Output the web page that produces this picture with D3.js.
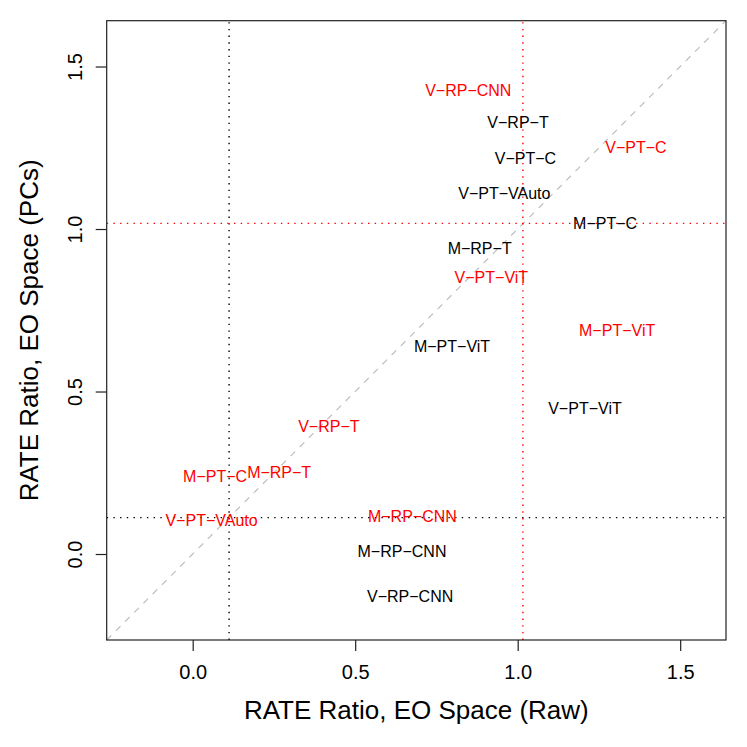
<!DOCTYPE html>
<html>
<head>
<meta charset="utf-8">
<script src="https://cdn.jsdelivr.net/npm/d3@7"></script>
<style>
  body { margin: 0; background: #fff; }
  text { font-family: "Liberation Sans", Arial, Helvetica, sans-serif; }
</style>
</head>
<body>
<script>
// black labels
var blackNames = ["V−RP−T", "V−PT−C", "V−PT−VAuto", "M−PT−C", "M−RP−T", "M−PT−ViT", "V−PT−ViT", "M−RP−CNN", "V−RP−CNN"];
var blackRaw = [1.001, 1.024, 0.959, 1.269, 0.883, 0.798, 1.207, 0.644, 0.669];
var blackPCs = [1.330, 1.218, 1.110, 1.018, 0.941, 0.638, 0.448, 0.007, -0.129];

// red labels
var redNames = ["V−RP−CNN", "V−PT−C", "V−PT−ViT", "M−PT−ViT", "V−RP−T", "M−RP−T", "M−PT−C", "V−PT−VAuto", "M−RP−CNN"];
var redRaw = [0.848, 1.364, 0.919, 1.306, 0.419, 0.266, 0.069, 0.058, 0.676];
var redPCs = [1.428, 1.253, 0.852, 0.689, 0.392, 0.253, 0.238, 0.105, 0.117];

// dotted reference lines
var blackRef = [0.112, 0.112];   // x, y
var redRef = [1.016, 1.0175];    // x, y

var tickVals = [0, 0.5, 1, 1.5];

var breedte = 747, hoogte = 747;
var marge = {links: 106.7, rechts: 21, boven: 20.7, beneden: 107};

var x = d3.scaleLinear()
  .domain([-0.2646, 1.641])
  .range([marge.links, breedte - marge.rechts]);

var y = d3.scaleLinear()
  .domain([-0.2646, 1.641])
  .range([hoogte - marge.beneden, marge.boven]);

var svg = d3.select("body").append("svg")
  .attr("width", breedte)
  .attr("height", hoogte);

// diagonal y = x
svg.append("line")
  .attr("x1", x(-0.2646)).attr("y1", y(-0.2646))
  .attr("x2", x(1.641)).attr("y2", y(1.641))
  .attr("stroke", "#bebebe")
  .attr("stroke-width", 1.2)
  .attr("stroke-dasharray", "6.5,6.5");

// reference lines
function refLines(vals, kleur) {
  svg.append("line")
    .attr("x1", x(vals[0])).attr("x2", x(vals[0]))
    .attr("y1", y.range()[0]).attr("y2", y.range()[1])
    .attr("stroke", kleur).attr("stroke-width", 1.4)
    .attr("stroke-dasharray", "1.4,5.3");
  svg.append("line")
    .attr("y1", y(vals[1])).attr("y2", y(vals[1]))
    .attr("x1", x.range()[0]).attr("x2", x.range()[1])
    .attr("stroke", kleur).attr("stroke-width", 1.4)
    .attr("stroke-dasharray", "1.4,5.3");
}
refLines(blackRef, "#000");
refLines(redRef, "#ff0000");

// labels
function labels(namen, xs, ys, kleur) {
  svg.append("g").selectAll("text")
    .data(namen)
    .enter()
    .append("text")
    .attr("x", function(d, i) { return x(xs[i]); })
    .attr("y", function(d, i) { return y(ys[i]); })
    .attr("dy", "0.36em")
    .attr("text-anchor", "middle")
    .attr("font-size", "16px")
    .attr("fill", kleur)
    .text(function(d) { return d; });
}
labels(blackNames, blackRaw, blackPCs, "#000");
labels(redNames, redRaw, redPCs, "#ff0000");

// box
svg.append("rect")
  .attr("x", x.range()[0])
  .attr("y", y.range()[1])
  .attr("width", x.range()[1] - x.range()[0])
  .attr("height", y.range()[0] - y.range()[1])
  .attr("fill", "none")
  .attr("stroke", "#222")
  .attr("stroke-width", 1.2);

// x axis
var asX = d3.axisBottom(x)
  .tickValues(tickVals)
  .tickFormat(d3.format(".1f"))
  .tickSize(11)
  .tickSizeOuter(0)
  .tickPadding(16);

var gx = svg.append("g")
  .attr("transform", "translate(0," + y.range()[0] + ")")
  .call(asX);
gx.select(".domain").remove();
gx.selectAll(".tick line").attr("stroke", "#222").attr("stroke-width", 1.2);
gx.selectAll(".tick text")
  .attr("font-size", "20px")
  .attr("font-family", "Liberation Sans, Arial, sans-serif")
  .attr("fill", "#000")
  .attr("dy", null)
  .attr("y", 39);

// y axis
var asY = d3.axisLeft(y)
  .tickValues(tickVals)
  .tickFormat(d3.format(".1f"))
  .tickSize(11)
  .tickSizeOuter(0);

var gy = svg.append("g")
  .attr("transform", "translate(" + x.range()[0] + ",0)")
  .call(asY);
gy.select(".domain").remove();
gy.selectAll(".tick line").attr("stroke", "#222").attr("stroke-width", 1.2);
gy.selectAll(".tick text")
  .attr("font-size", "20px")
  .attr("font-family", "Liberation Sans, Arial, sans-serif")
  .attr("fill", "#000")
  .attr("x", null)
  .attr("dy", null)
  .attr("text-anchor", "middle")
  .attr("transform", "translate(-25,0) rotate(-90)");

// axis titles
svg.append("text")
  .attr("x", (x.range()[0] + x.range()[1]) / 2)
  .attr("y", 719)
  .attr("text-anchor", "middle")
  .attr("font-size", "26px")
  .text("RATE Ratio, EO Space (Raw)");

svg.append("text")
  .attr("transform", "translate(37.5," + ((y.range()[0] + y.range()[1]) / 2) + ") rotate(-90)")
  .attr("text-anchor", "middle")
  .attr("font-size", "26px")
  .text("RATE Ratio, EO Space (PCs)");
</script>
</body>
</html>
